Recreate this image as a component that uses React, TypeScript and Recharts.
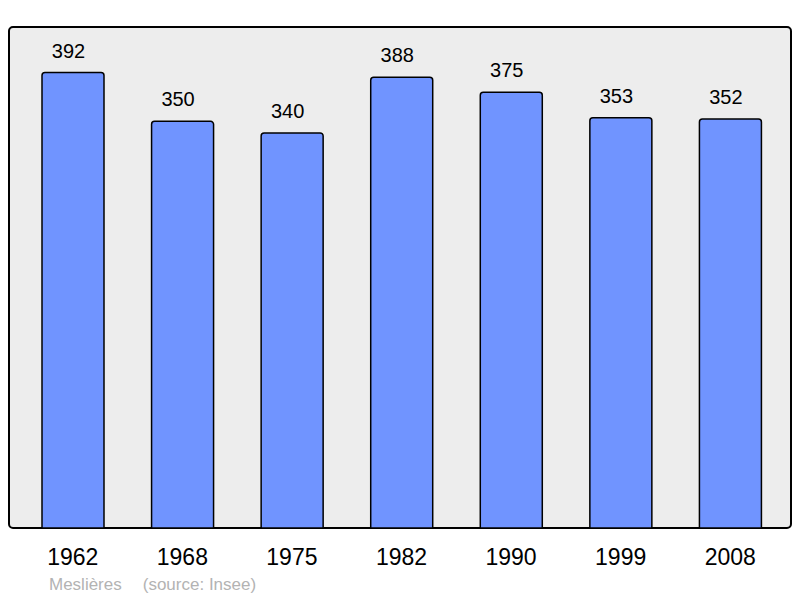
import React from 'react';
import { BarChart, Bar, XAxis, YAxis, LabelList } from 'recharts';

const years = ['1962', '1968', '1975', '1982', '1990', '1999', '2008'];
const population = [392, 350, 340, 388, 375, 353, 352];
const commune = 'Meslières';
const source = '(source: Insee)';

const data = years.map((y, i) => ({ year: y, value: population[i] }));
const FONT = '"Liberation Sans", Arial, sans-serif';

const Tick = (props: any) => {
  const { x, y, payload } = props;
  return (
    <text x={x} y={y} dy={29} textAnchor="middle" fontSize={23} fontFamily={FONT} fill="#000">
      {payload.value}
    </text>
  );
};

const ValueLabel = (props: any) => {
  const { x, y, width, value } = props;
  return (
    <text
      x={x + width / 2 - 4.5}
      y={y}
      dy={-15}
      textAnchor="middle"
      fontSize={20}
      fontFamily={FONT}
      fill="#000"
    >
      {value}
    </text>
  );
};

export default function App() {
  return (
    <div style={{ position: 'absolute', left: 0, top: 0, width: 800, height: 598, background: '#fff' }}>
      <div
        style={{
          position: 'absolute',
          left: 8,
          top: 26,
          width: 784,
          height: 503,
          boxSizing: 'border-box',
          border: '2px solid #000',
          borderRadius: 5,
          background: '#ededed',
        }}
      />
      <div style={{ position: 'absolute', left: 0, top: 0 }}>
        <BarChart width={800} height={598} data={data} margin={{ top: 27, right: 9, left: 9, bottom: 0 }}>
          <YAxis hide domain={[0, 431.2]} />
          <XAxis
            dataKey="year"
            height={70}
            axisLine={false}
            tickLine={false}
            padding={{ left: 9, right: 6 }}
            tick={<Tick />}
            interval={0}
          />
          <Bar
            dataKey="value"
            fill="#7094ff"
            stroke="#000"
            strokeWidth={1.5}
            barSize={62}
            radius={[3, 3, 0, 0]}
            isAnimationActive={false}
          >
            <LabelList dataKey="value" content={<ValueLabel />} />
          </Bar>
        </BarChart>
      </div>
      <div
        style={{
          position: 'absolute',
          left: 49,
          top: 576,
          fontSize: 17,
          lineHeight: '17px',
          fontFamily: FONT,
          color: '#b3b3b3',
          whiteSpace: 'pre',
        }}
      >
        <span>{commune}</span>
        <span style={{ marginLeft: 21 }}>{source}</span>
      </div>
    </div>
  );
}
